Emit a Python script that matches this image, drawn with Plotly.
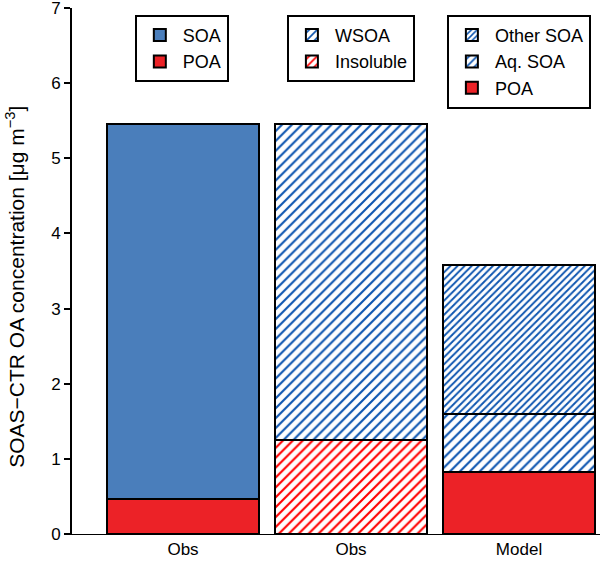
import plotly.graph_objects as go

# Data
x_pos = [0, 1, 2]
x_labels = ["Obs", "Obs", "Model"]
y_ticks = [0, 1, 2, 3, 4, 5, 6, 7]

obs_poa = 0.46
obs_soa = 5.45 - 0.46
wsoa_insoluble = 1.25
wsoa = 5.45 - 1.25
model_poa = 0.83
model_aq_soa = 1.60 - 0.83
model_other_soa = 3.58 - 1.60

BLUE = "#4a7ebb"
RED = "#ec2227"
HBLUE = "#0d55b0"
HRED = "#ff0000"
FONT = "Liberation Sans, Arial, sans-serif"

W = 0.905
line = dict(color="black", width=2)


def hatch(col, size, sol):
    return dict(shape="/", fgcolor=col, bgcolor="white", size=size,
                solidity=sol, fgopacity=1, fillmode="replace")


fig = go.Figure()

# Bar 1
fig.add_trace(go.Bar(x=[x_pos[0]], y=[obs_poa], name="POA", width=W,
                     marker=dict(color=RED, line=line), legend="legend"))
fig.add_trace(go.Bar(x=[x_pos[0]], y=[obs_soa], name="SOA", width=W,
                     marker=dict(color=BLUE, line=line), legend="legend"))

# Bar 2
fig.add_trace(go.Bar(x=[x_pos[1]], y=[wsoa_insoluble], name="Insoluble", width=W,
                     marker=dict(color=HRED, line=line, pattern=hatch(HRED, 7, 0.3)),
                     legend="legend2"))
fig.add_trace(go.Bar(x=[x_pos[1]], y=[wsoa], name="WSOA", width=W,
                     marker=dict(color=HBLUE, line=line, pattern=hatch(HBLUE, 7, 0.3)),
                     legend="legend2"))

# Bar 3
fig.add_trace(go.Bar(x=[x_pos[2]], y=[model_poa], name="POA", width=W,
                     marker=dict(color=RED, line=line), legend="legend3"))
fig.add_trace(go.Bar(x=[x_pos[2]], y=[model_aq_soa], name="Aq. SOA", width=W,
                     marker=dict(color=HBLUE, line=line, pattern=hatch(HBLUE, 7, 0.3)),
                     legend="legend3"))
fig.add_trace(go.Bar(x=[x_pos[2]], y=[model_other_soa], name="Other SOA", width=W,
                     marker=dict(color=HBLUE, line=line, pattern=hatch(HBLUE, 5, 0.38)),
                     legend="legend3"))

leg_common = dict(bordercolor="black", borderwidth=2, bgcolor="white",
                  font=dict(family=FONT, size=18, color="black"),
                  traceorder="reversed", yanchor="top", xanchor="left",
                  itemwidth=36)

fig.update_layout(
    barmode="stack",
    width=600, height=573,
    margin=dict(l=72, r=0, t=8, b=39),
    paper_bgcolor="white", plot_bgcolor="white",
    font=dict(family=FONT, size=17, color="black"),
    legend=dict(x=0.119, y=0.987, **leg_common),
    legend2=dict(x=0.407, y=0.987, **leg_common),
    legend3=dict(x=0.710, y=0.987, **leg_common),
    xaxis=dict(range=[-0.661, 2.482], tickvals=x_pos, ticktext=x_labels,
               showline=True, linecolor="black", linewidth=1,
               ticks="", showgrid=False, zeroline=False,
               tickfont=dict(size=17)),
    yaxis=dict(range=[0, 7], tickvals=y_ticks,
               showline=True, linecolor="black", linewidth=2,
               ticks="outside", ticklen=6, tickwidth=1.5, tickcolor="black",
               ticklabeloverflow="allow",
               showgrid=False, zeroline=False, tickfont=dict(size=17)),
    annotations=[dict(text="SOAS\u2212CTR OA concentration [\u03bcg m<sup>\u22123</sup>]",
                      textangle=-90, xref="paper", yref="paper",
                      x=-0.108, y=0.47, xanchor="center", yanchor="middle",
                      showarrow=False, font=dict(size=21, family=FONT, color="black"))],
)

fig.write_html("out.html", config={"displayModeBar": False},
               post_script="document.body.style.margin='0';")
